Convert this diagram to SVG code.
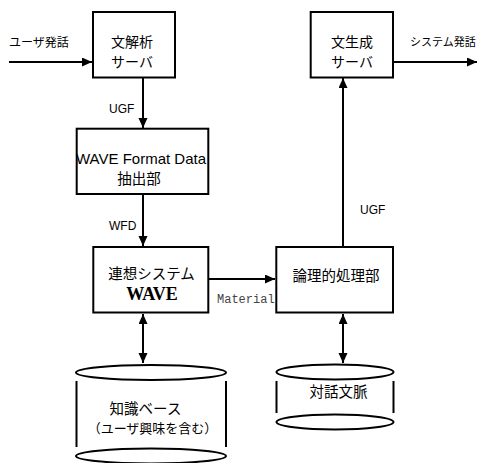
<svg xmlns="http://www.w3.org/2000/svg" width="484" height="463" viewBox="0 0 484 463">
  <style>
    .box { fill: #fff; stroke: #000; stroke-width: 2; }
    .db { fill: none; stroke: #000; stroke-width: 2; }
    .edge { fill: none; stroke: #000; stroke-width: 2; }
    .jp { font-family: "Noto Sans CJK JP", "Liberation Sans", sans-serif; fill: #000; }
    .lat { font-family: "Liberation Sans", Arial, sans-serif; fill: #000; }
    .big { font-size: 14.5px; }
    .srv { font-size: 14px; }
    .lbl { font-size: 12px; }
    .mid { text-anchor: middle; }
    .wave { font-family: "Liberation Serif", "Times New Roman", serif; font-weight: bold; font-size: 18px; }
    .mono { font-family: "Liberation Mono", "Courier New", monospace; font-size: 12px; fill: #444; }
  </style>
  <defs>
    <marker id="arrow" markerUnits="userSpaceOnUse" markerWidth="11" markerHeight="10" refX="10" refY="4.5" orient="auto-start-reverse">
      <path d="M0,0 L10,4.5 L0,9 z" fill="#000"/>
    </marker>
  </defs>

  <rect width="484" height="463" fill="#fff"/>

  <!-- connectors -->
  <g id="connectors">
    <line class="edge" x1="9" y1="62" x2="92" y2="62" marker-end="url(#arrow)"/>
    <line class="edge" x1="143" y1="78" x2="143" y2="128" marker-end="url(#arrow)"/>
    <text class="lat lbl" x="109" y="112.5">UGF</text>
    <line class="edge" x1="143" y1="194" x2="143" y2="246" marker-end="url(#arrow)"/>
    <text class="lat lbl" x="109" y="229.5">WFD</text>
    <line class="edge" x1="209" y1="279" x2="275" y2="279" marker-end="url(#arrow)"/>
    <text class="mono" x="217" y="303">Material</text>
    <line class="edge" x1="343" y1="246" x2="343" y2="78" marker-end="url(#arrow)"/>
    <text class="lat lbl" x="360" y="213.5">UGF</text>
    <line class="edge" x1="394" y1="62" x2="477" y2="62" marker-end="url(#arrow)"/>
    <line class="edge" x1="143" y1="314" x2="143" y2="363" marker-start="url(#arrow)" marker-end="url(#arrow)"/>
    <line class="edge" x1="343" y1="314" x2="343" y2="363" marker-start="url(#arrow)" marker-end="url(#arrow)"/>
    <text class="jp lbl" x="9" y="46.5">ユーザ発話</text>
    <text class="jp" x="410" y="46" font-size="11">システム発話</text>
  </g>

  <!-- sentence analysis server -->
  <g id="parser">
    <rect class="box" x="93" y="12" width="82" height="65.5"/>
    <text class="jp srv mid"><tspan x="132" y="46.5">文解析</tspan><tspan x="132" y="66.5">サーバ</tspan></text>
  </g>

  <!-- WAVE format data extractor -->
  <g id="extractor">
    <rect class="box" x="76.7" y="128.7" width="131.6" height="65.3"/>
    <text class="lat mid" x="141" y="163.5" font-size="15">WAVE Format Data</text>
    <text class="jp big mid" x="139" y="184">抽出部</text>
  </g>

  <!-- associative system WAVE -->
  <g id="wave">
    <rect class="box" x="93.3" y="247" width="115" height="65.5"/>
    <text class="mid"><tspan class="jp big" x="151.5" y="279">連想システム</tspan><tspan class="wave" x="152" y="300">WAVE</tspan></text>
  </g>

  <!-- logical processing unit -->
  <g id="logic">
    <rect class="box" x="276.3" y="247" width="116.7" height="65.5"/>
    <text class="jp big mid" x="336" y="280.5">論理的処理部</text>
  </g>

  <!-- sentence generation server -->
  <g id="generator">
    <rect class="box" x="310.7" y="12" width="82.3" height="65.5"/>
    <text class="jp srv mid"><tspan x="352" y="46.5">文生成</tspan><tspan x="352" y="66.5">サーバ</tspan></text>
  </g>

  <!-- knowledge base -->
  <g id="knowledge">
    <ellipse class="db" cx="151" cy="372.5" rx="75" ry="7.5"/>
    <line class="db" x1="76.5" y1="381" x2="76.5" y2="447"/>
    <line class="db" x1="226" y1="381" x2="226" y2="447"/>
    <ellipse class="db" cx="151" cy="456" rx="75" ry="7.5"/>
    <text class="jp mid"><tspan class="big" x="145.5" y="414">知識ベース</tspan><tspan x="152.5" y="433" font-size="13">（ユーザ興味を含む）</tspan></text>
  </g>

  <!-- dialogue context -->
  <g id="context">
    <ellipse class="db" cx="335" cy="372" rx="58.5" ry="7.5"/>
    <line class="db" x1="276.5" y1="381" x2="276.5" y2="413"/>
    <line class="db" x1="393.5" y1="381" x2="393.5" y2="413"/>
    <ellipse class="db" cx="335" cy="422" rx="58.5" ry="7.5"/>
    <text class="jp big mid" x="338.5" y="397">対話文脈</text>
  </g>
</svg>
